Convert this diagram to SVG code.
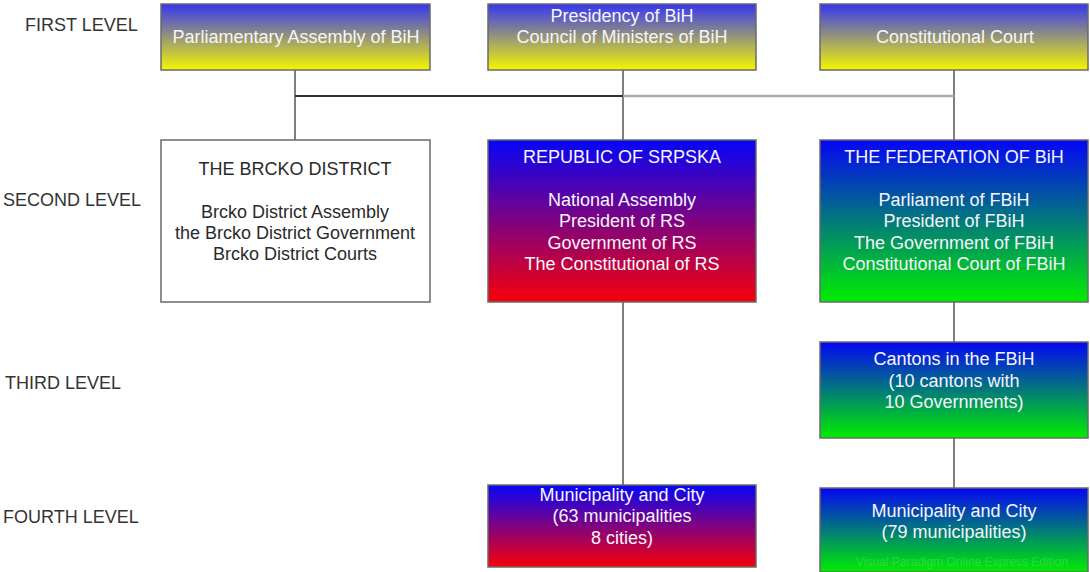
<svg xmlns="http://www.w3.org/2000/svg" width="1090" height="572" viewBox="0 0 1090 572">
<style>
.lvl{font-family:"Liberation Sans",Arial,sans-serif;font-size:18px;fill:#333}
.t{font-family:"Liberation Sans",Arial,sans-serif;font-size:18px;fill:#f6f6fa;text-anchor:middle}
.d{font-family:"Liberation Sans",Arial,sans-serif;font-size:18px;fill:#2a2a2a;text-anchor:middle}
.box{stroke:#6a6a6a;stroke-width:1.5}
.ln{stroke:#555;stroke-width:1.5;fill:none}
</style>
<defs>
<linearGradient id="gBY" x1="0" y1="0" x2="0" y2="1"><stop offset="0" stop-color="#3636f2"/><stop offset="1" stop-color="#f6f600"/></linearGradient>
<linearGradient id="gBR" x1="0" y1="0" x2="0" y2="1"><stop offset="0" stop-color="#0505f8"/><stop offset="1" stop-color="#f80008"/></linearGradient>
<linearGradient id="gBG" x1="0" y1="0" x2="0" y2="1"><stop offset="0" stop-color="#0505f5"/><stop offset="1" stop-color="#00ee00"/></linearGradient>
</defs>
<rect width="1090" height="572" fill="#fff"/>
<g id="levels">
<text class="lvl" x="25" y="31">FIRST LEVEL</text>
<text class="lvl" x="3" y="206">SECOND LEVEL</text>
<text class="lvl" x="5" y="389">THIRD LEVEL</text>
<text class="lvl" x="3" y="523">FOURTH LEVEL</text>
</g>
<g id="connectors">
<line class="ln" x1="295" y1="70" x2="295" y2="140"/>
<line class="ln" x1="623" y1="70" x2="623" y2="140"/>
<line class="ln" x1="954" y1="70" x2="954" y2="140"/>
<line x1="295" y1="96" x2="623" y2="96" stroke="#333" stroke-width="2"/>
<line x1="623" y1="96" x2="954" y2="96" stroke="#aaa" stroke-width="2.5"/>
<line class="ln" x1="623" y1="302" x2="623" y2="485"/>
<line class="ln" x1="954" y1="302" x2="954" y2="342"/>
<line class="ln" x1="954" y1="438" x2="954" y2="488"/>
</g>
<g id="parliament">
<rect class="box" x="161" y="4" width="269" height="66" fill="url(#gBY)"/>
<text class="t" x="296" y="43">Parliamentary Assembly of BiH</text>
</g>
<g id="presidency">
<rect class="box" x="488" y="4" width="268" height="66" fill="url(#gBY)"/>
<text class="t" x="622" y="22">Presidency of BiH</text>
<text class="t" x="622" y="43">Council of Ministers of BiH</text>
</g>
<g id="court">
<rect class="box" x="820" y="4" width="268" height="66" fill="url(#gBY)"/>
<text class="t" x="955" y="43">Constitutional Court</text>
</g>
<g id="brcko">
<rect class="box" x="161" y="140" width="269" height="162" fill="#fff"/>
<text class="d" x="295" y="175">THE BRCKO DISTRICT</text>
<text class="d" x="295" y="218">Brcko District Assembly</text>
<text class="d" x="295" y="239">the Brcko District Government</text>
<text class="d" x="295" y="260">Brcko District Courts</text>
</g>
<g id="srpska">
<rect class="box" x="488" y="140" width="268" height="162" fill="url(#gBR)"/>
<text class="t" x="622" y="163">REPUBLIC OF SRPSKA</text>
<text class="t" x="622" y="206">National Assembly</text>
<text class="t" x="622" y="227">President of RS</text>
<text class="t" x="622" y="249">Government of RS</text>
<text class="t" x="622" y="270">The Constitutional of RS</text>
</g>
<g id="federation">
<rect class="box" x="820" y="140" width="268" height="162" fill="url(#gBG)"/>
<text class="t" x="954" y="163">THE FEDERATION OF BiH</text>
<text class="t" x="954" y="206">Parliament of FBiH</text>
<text class="t" x="954" y="227">President of FBiH</text>
<text class="t" x="954" y="249">The Government of FBiH</text>
<text class="t" x="954" y="270">Constitutional Court of FBiH</text>
</g>
<g id="cantons">
<rect class="box" x="820" y="342" width="268" height="96" fill="url(#gBG)"/>
<text class="t" x="954" y="365">Cantons in the FBiH</text>
<text class="t" x="954" y="387">(10 cantons with</text>
<text class="t" x="954" y="408">10 Governments)</text>
</g>
<g id="rs-municipality">
<rect class="box" x="488" y="485" width="268" height="82" fill="url(#gBR)"/>
<text class="t" x="622" y="501">Municipality and City</text>
<text class="t" x="622" y="522">(63 municipalities</text>
<text class="t" x="622" y="544">8 cities)</text>
</g>
<g id="fbih-municipality">
<rect class="box" x="820" y="488" width="268" height="84" fill="url(#gBG)"/>
<text class="t" x="954" y="517">Municipality and City</text>
<text class="t" x="954" y="538">(79 municipalities)</text>
<text x="962" y="566" font-family="Liberation Sans,Arial,sans-serif" font-size="12" fill="#ffffff" fill-opacity="0.18" text-anchor="middle">Visual Paradigm Online Express Edition</text>
</g>
</svg>
